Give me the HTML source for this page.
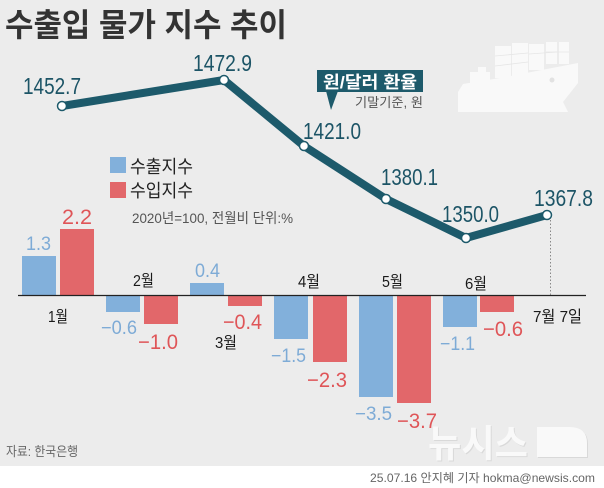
<!DOCTYPE html>
<html>
<head>
<meta charset="utf-8">
<style>
html,body{margin:0;padding:0;background:#fff;}
svg{display:block;}
text{font-family:"Liberation Sans","Noto Sans CJK KR","NanumGothic",sans-serif;}
</style>
</head>
<body>
<svg width="604" height="488" viewBox="0 0 604 488" xmlns="http://www.w3.org/2000/svg">
  <rect x="0" y="0" width="604" height="466" fill="#ececec"/>
  <rect x="0" y="466" width="604" height="22" fill="#ffffff"/>

  <!-- Ship -->
  <g fill="#f9f9f9">
    <!-- containers -->
    <rect x="495" y="46" width="16" height="32"/>
    <rect x="512" y="43" width="16" height="33"/>
    <rect x="529" y="44" width="15" height="26"/>
    <rect x="546" y="42" width="11" height="22"/>
    <rect x="559" y="42" width="10" height="22"/>
    <!-- bridge -->
    <rect x="470" y="72" width="20" height="12"/>
    <rect x="478" y="67" width="8" height="6"/>
    <!-- hull -->
    <polygon points="458,92 463,84 500,78 578,63 578,83 563,102 568,112 458,112"/>
  </g>
  <g stroke="#e6e6e6" stroke-width="0.8">
    <line x1="495" y1="56" x2="528" y2="53"/>
    <line x1="495" y1="66" x2="528" y2="62"/>
    <line x1="529" y1="54" x2="557" y2="52"/>
    <line x1="546" y1="52" x2="569" y2="52"/>
  </g>
  <circle cx="552" cy="80" r="2.5" fill="#e2e2e2"/>

  <!-- Title -->
  <text x="5" y="36" font-size="32" font-weight="bold" fill="#333" textLength="282" lengthAdjust="spacingAndGlyphs">수출입 물가 지수 추이</text>

  <!-- Bubble -->
  <rect x="317" y="70" width="106" height="22" fill="#1d5a6b"/>
  <polygon points="326,91 338,91 331,110" fill="#1d5a6b"/>
  <text x="323" y="88" font-size="17" font-weight="bold" fill="#fff" textLength="94" lengthAdjust="spacingAndGlyphs">원/달러 환율</text>
  <text x="355" y="107" font-size="13" fill="#555" textLength="68" lengthAdjust="spacingAndGlyphs">기말기준, 원</text>

  <!-- Legend -->
  <rect x="110" y="157" width="16" height="16" fill="#82b0db"/>
  <text x="130" y="173" font-size="18" fill="#222" textLength="63" lengthAdjust="spacingAndGlyphs">수출지수</text>
  <rect x="110" y="182" width="16" height="16" fill="#e2676a"/>
  <text x="130" y="197" font-size="18" fill="#222" textLength="63" lengthAdjust="spacingAndGlyphs">수입지수</text>
  <text x="132" y="223" font-size="14" fill="#555" textLength="161" lengthAdjust="spacingAndGlyphs">2020년=100, 전월비 단위:%</text>

  <!-- Bars blue -->
  <g fill="#82b0db">
    <rect x="22" y="256" width="34" height="39"/>
    <rect x="106" y="295" width="34" height="17"/>
    <rect x="190" y="283" width="34" height="12"/>
    <rect x="274" y="295" width="34" height="44"/>
    <rect x="359" y="295" width="34" height="102"/>
    <rect x="443" y="295" width="34" height="32"/>
  </g>
  <!-- Bars red -->
  <g fill="#e2676a">
    <rect x="60" y="229" width="34" height="66"/>
    <rect x="144" y="295" width="34" height="29"/>
    <rect x="228" y="295" width="34" height="11"/>
    <rect x="313" y="295" width="34" height="67"/>
    <rect x="397" y="295" width="34" height="108"/>
    <rect x="480" y="295" width="34" height="17"/>
  </g>

  <!-- Axis -->
  <line x1="18" y1="295.5" x2="586" y2="295.5" stroke="#222" stroke-width="1.3"/>
  <!-- Dotted vertical -->
  <line x1="550.5" y1="220" x2="550.5" y2="295" stroke="#888" stroke-width="1" stroke-dasharray="1.5,2"/>

  <!-- Blue value labels -->
  <g font-size="19" fill="#7eabd6">
    <text x="26" y="250" textLength="25" lengthAdjust="spacingAndGlyphs">1.3</text>
    <text x="101" y="334" textLength="36" lengthAdjust="spacingAndGlyphs">−0.6</text>
    <text x="195" y="277" textLength="25" lengthAdjust="spacingAndGlyphs">0.4</text>
    <text x="271" y="362" textLength="35" lengthAdjust="spacingAndGlyphs">−1.5</text>
    <text x="355" y="420" textLength="37" lengthAdjust="spacingAndGlyphs">−3.5</text>
    <text x="440" y="350" textLength="35" lengthAdjust="spacingAndGlyphs">−1.1</text>
  </g>
  <!-- Red value labels -->
  <g font-size="21" fill="#df5558">
    <text x="62" y="224" textLength="30" lengthAdjust="spacingAndGlyphs">2.2</text>
    <text x="138" y="349" textLength="40" lengthAdjust="spacingAndGlyphs">−1.0</text>
    <text x="223" y="329" textLength="39" lengthAdjust="spacingAndGlyphs">−0.4</text>
    <text x="307" y="387" textLength="40" lengthAdjust="spacingAndGlyphs">−2.3</text>
    <text x="397" y="428" textLength="40" lengthAdjust="spacingAndGlyphs">−3.7</text>
    <text x="483" y="336" textLength="40" lengthAdjust="spacingAndGlyphs">−0.6</text>
  </g>

  <!-- Month labels -->
  <g font-size="16" fill="#1a1a1a">
    <text x="48" y="322" textLength="20" lengthAdjust="spacingAndGlyphs">1월</text>
    <text x="133" y="286" textLength="21" lengthAdjust="spacingAndGlyphs">2월</text>
    <text x="215" y="348" textLength="22" lengthAdjust="spacingAndGlyphs">3월</text>
    <text x="298" y="287" textLength="22" lengthAdjust="spacingAndGlyphs">4월</text>
    <text x="382" y="287" textLength="21" lengthAdjust="spacingAndGlyphs">5월</text>
    <text x="465" y="289" textLength="22" lengthAdjust="spacingAndGlyphs">6월</text>
    <text x="533" y="322" textLength="49" lengthAdjust="spacingAndGlyphs">7월 7일</text>
  </g>

  <!-- Line -->
  <polyline points="62,106 224,80 304,146 386,199 466,238 547,215" fill="none" stroke="#1d5a6b" stroke-width="8" stroke-linejoin="round" stroke-linecap="round"/>
  <g fill="#fff" stroke="#1d5a6b" stroke-width="1.5">
    <circle cx="62" cy="106" r="4.5"/>
    <circle cx="224" cy="80" r="4.5"/>
    <circle cx="304" cy="146" r="4.5"/>
    <circle cx="386" cy="199" r="4.5"/>
    <circle cx="466" cy="238" r="4.5"/>
    <circle cx="547" cy="215" r="4.5"/>
  </g>
  <g font-size="23" fill="#1c5466">
    <text x="23" y="94" textLength="58" lengthAdjust="spacingAndGlyphs">1452.7</text>
    <text x="193" y="71" textLength="59" lengthAdjust="spacingAndGlyphs">1472.9</text>
    <text x="303" y="139" textLength="58" lengthAdjust="spacingAndGlyphs">1421.0</text>
    <text x="381" y="185" textLength="57" lengthAdjust="spacingAndGlyphs">1380.1</text>
    <text x="442" y="222" textLength="57" lengthAdjust="spacingAndGlyphs">1350.0</text>
    <text x="534" y="206" textLength="59" lengthAdjust="spacingAndGlyphs">1367.8</text>
  </g>

  <!-- Watermark -->
  <g opacity="0.95">
    <text x="429" y="458" font-size="38" font-weight="bold" fill="#d8d8d8" textLength="100" lengthAdjust="spacingAndGlyphs">뉴시스</text>
    <text x="428" y="457" font-size="38" font-weight="bold" fill="#fafafa" textLength="100" lengthAdjust="spacingAndGlyphs">뉴시스</text>
    <path d="M538,428 L570,428 Q588,428 588,444 L588,458 L538,458 Z" fill="#d8d8d8"/>
    <path d="M537,427 L569,427 Q587,427 587,443 L587,457 L537,457 Z" fill="#fafafa"/>
  </g>

  <!-- Source / credit -->
  <text x="6" y="456" font-size="13" fill="#666" textLength="72" lengthAdjust="spacingAndGlyphs">자료: 한국은행</text>
  <text x="370" y="482" font-size="12" fill="#666" textLength="225" lengthAdjust="spacingAndGlyphs">25.07.16 안지혜 기자 hokma@newsis.com</text>
</svg>
</body>
</html>
